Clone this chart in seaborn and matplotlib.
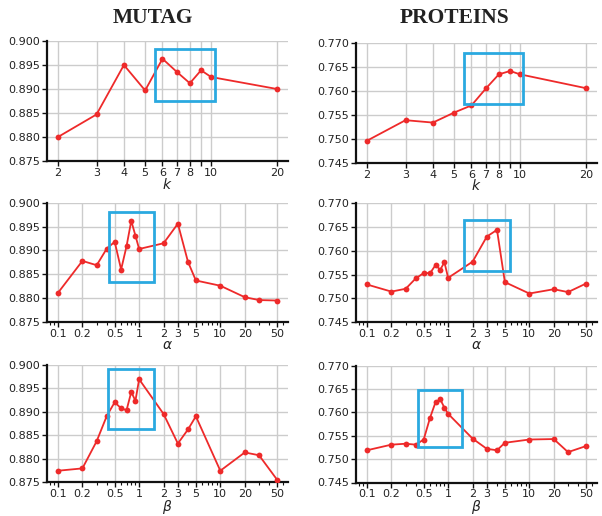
import matplotlib
matplotlib.use("Agg")
import matplotlib.pyplot as plt
import seaborn as sns
import pandas as pd
from matplotlib.patches import Rectangle
from matplotlib.ticker import FixedLocator, FixedFormatter, LogLocator, NullFormatter, NullLocator

# ---------------- data ----------------
k_vals = [2, 3, 4, 5, 6, 7, 8, 9, 10, 20]
grid_vals = [0.1, 0.2, 0.3, 0.4, 0.5, 0.6, 0.7, 0.8, 0.9, 1, 2, 3, 4, 5, 10, 20, 30, 50]

mutag_k = [0.8800, 0.8847, 0.8950, 0.8897, 0.8963, 0.8935, 0.8912, 0.8939, 0.8925, 0.8900]
proteins_k = [0.7496, 0.7539, 0.7534, 0.7555, 0.7570, 0.7606, 0.7635, 0.7642, 0.7635, 0.7606]

mutag_alpha = [0.8811, 0.8878, 0.8869, 0.8904, 0.8918, 0.8860, 0.8909, 0.8962, 0.8931, 0.8903,
               0.8915, 0.8956, 0.8876, 0.8837, 0.8826, 0.8802, 0.8796, 0.8795]
proteins_alpha = [0.7529, 0.7514, 0.7520, 0.7542, 0.7553, 0.7553, 0.7570, 0.7560, 0.7576, 0.7543,
                  0.7577, 0.7630, 0.7644, 0.7534, 0.7510, 0.7519, 0.7513, 0.7531]

mutag_beta = [0.8774, 0.8779, 0.8837, 0.8891, 0.8920, 0.8907, 0.8903, 0.8942, 0.8923, 0.8969,
              0.8895, 0.8832, 0.8862, 0.8890, 0.8774, 0.8813, 0.8807, 0.8755]
proteins_beta = [0.7519, 0.7531, 0.7533, 0.7531, 0.7542, 0.7589, 0.7622, 0.7628, 0.7610, 0.7597,
                 0.7544, 0.7522, 0.7519, 0.7535, 0.7542, 0.7543, 0.7515, 0.7528]

# highlight boxes: (x0, x1, y0, y1)
box_mutag_k = (5.57, 10.4, 0.8875, 0.8983)
box_proteins_k = (5.55, 10.3, 0.7572, 0.7679)
box_mutag_alpha = (0.425, 1.52, 0.8834, 0.8980)
box_proteins_alpha = (1.59, 5.77, 0.75574, 0.76656)
box_mutag_beta = (0.419, 1.51, 0.8862, 0.8991)
box_proteins_beta = (0.420, 1.50, 0.7527, 0.7649)

k_ticks = [2, 3, 4, 5, 6, 7, 8, 9, 10, 20]
k_ticklabels = ["2", "3", "4", "5", "6", "7", "8", "", "10", "20"]
ab_ticks = [0.1, 0.2, 0.5, 1, 2, 3, 5, 10, 20, 50]
ab_ticklabels = ["0.1", "0.2", "0.5", "1", "2", "3", "5", "10", "20", "50"]

mutag_yticks = [0.875, 0.880, 0.885, 0.890, 0.895, 0.900]
proteins_yticks = [0.745, 0.750, 0.755, 0.760, 0.765, 0.770]

titles = ["MUTAG", "PROTEINS"]
xlabels = [r"$k$", r"$\alpha$", r"$\beta$"]

# ---------------- style ----------------
sns.set_style("white")
plt.rcParams["font.family"] = ["DejaVu Sans"]
plt.rcParams["mathtext.fontset"] = "dejavusans"

fig = plt.figure(figsize=(6.02, 5.16), dpi=100)
W, H = 602.0, 516.0

def axes_at(left, top, right, bottom):
    return fig.add_axes([left / W, 1 - bottom / H, (right - left) / W, (bottom - top) / H])

layout = [
    [(47, 41, 288, 161), (356, 43.3, 597, 162.7)],
    [(47, 202.7, 288, 322), (356, 203.3, 597, 322)],
    [(47, 364.7, 288, 482), (356, 365.7, 597, 482.5)],
]

panels = [
    [(k_vals, mutag_k, box_mutag_k), (k_vals, proteins_k, box_proteins_k)],
    [(grid_vals, mutag_alpha, box_mutag_alpha), (grid_vals, proteins_alpha, box_proteins_alpha)],
    [(grid_vals, mutag_beta, box_mutag_beta), (grid_vals, proteins_beta, box_proteins_beta)],
]

line_color = "#ee2a2a"
box_color = "#2aa9e0"
grid_color = "#cccccc"

for r in range(3):
    for c in range(2):
        ax = axes_at(*layout[r][c])
        xs, ys, box = panels[r][c]
        df = pd.DataFrame({"x": xs, "y": ys})
        ax.set_xscale("log")
        sns.lineplot(data=df, x="x", y="y", ax=ax, color=line_color, marker="o",
                     markersize=4.2, markeredgewidth=0, linewidth=1.3, zorder=3)
        yt = mutag_yticks if c == 0 else proteins_yticks
        ax.set_ylim(yt[0], yt[-1])
        ax.yaxis.set_major_locator(FixedLocator(yt))
        ax.set_yticklabels([f"{v:.3f}" for v in yt])
        if r == 0:
            ax.xaxis.set_major_locator(FixedLocator(k_ticks))
            ax.xaxis.set_major_formatter(FixedFormatter(k_ticklabels))
            ax.xaxis.set_minor_locator(NullLocator())
        else:
            ax.xaxis.set_major_locator(FixedLocator(ab_ticks))
            ax.xaxis.set_major_formatter(FixedFormatter(ab_ticklabels))
            ax.xaxis.set_minor_locator(LogLocator(base=10, subs=[2, 3, 4, 5, 6, 7, 8, 9], numticks=20))
            ax.xaxis.set_minor_formatter(NullFormatter())
        ax.grid(True, which="major", color=grid_color, linewidth=1.0, zorder=0)
        ax.set_axisbelow(True)
        for s in ["top", "right"]:
            ax.spines[s].set_visible(False)
        for s in ["left", "bottom"]:
            ax.spines[s].set_color("#111111")
            ax.spines[s].set_linewidth(1.6)
        ax.tick_params(axis="both", which="major", direction="out", length=3.5, width=1,
                       color="#111111", labelsize=8, labelcolor="#222222", pad=1.5,
                       left=True, bottom=True)
        ax.tick_params(axis="x", which="minor", direction="out", length=2, width=0.8,
                       color="#111111", bottom=True)
        ax.set_xlabel(xlabels[r], fontsize=10, labelpad=-1.0, color="#222222")
        ax.set_ylabel("")
        x0, x1, y0, y1 = box
        ax.add_patch(Rectangle((x0, y0), x1 - x0, y1 - y0, fill=False,
                               edgecolor=box_color, linewidth=2.0, zorder=4))

fig.text(153 / W, 1 - 18 / H, titles[0], ha="center", va="center",
         fontsize=15.5, fontweight="bold", family=["Liberation Serif"], color="#222222")
fig.text(454 / W, 1 - 18 / H, titles[1], ha="center", va="center",
         fontsize=15.5, fontweight="bold", family=["Liberation Serif"], color="#222222")

fig.savefig("out.png", dpi=100)
